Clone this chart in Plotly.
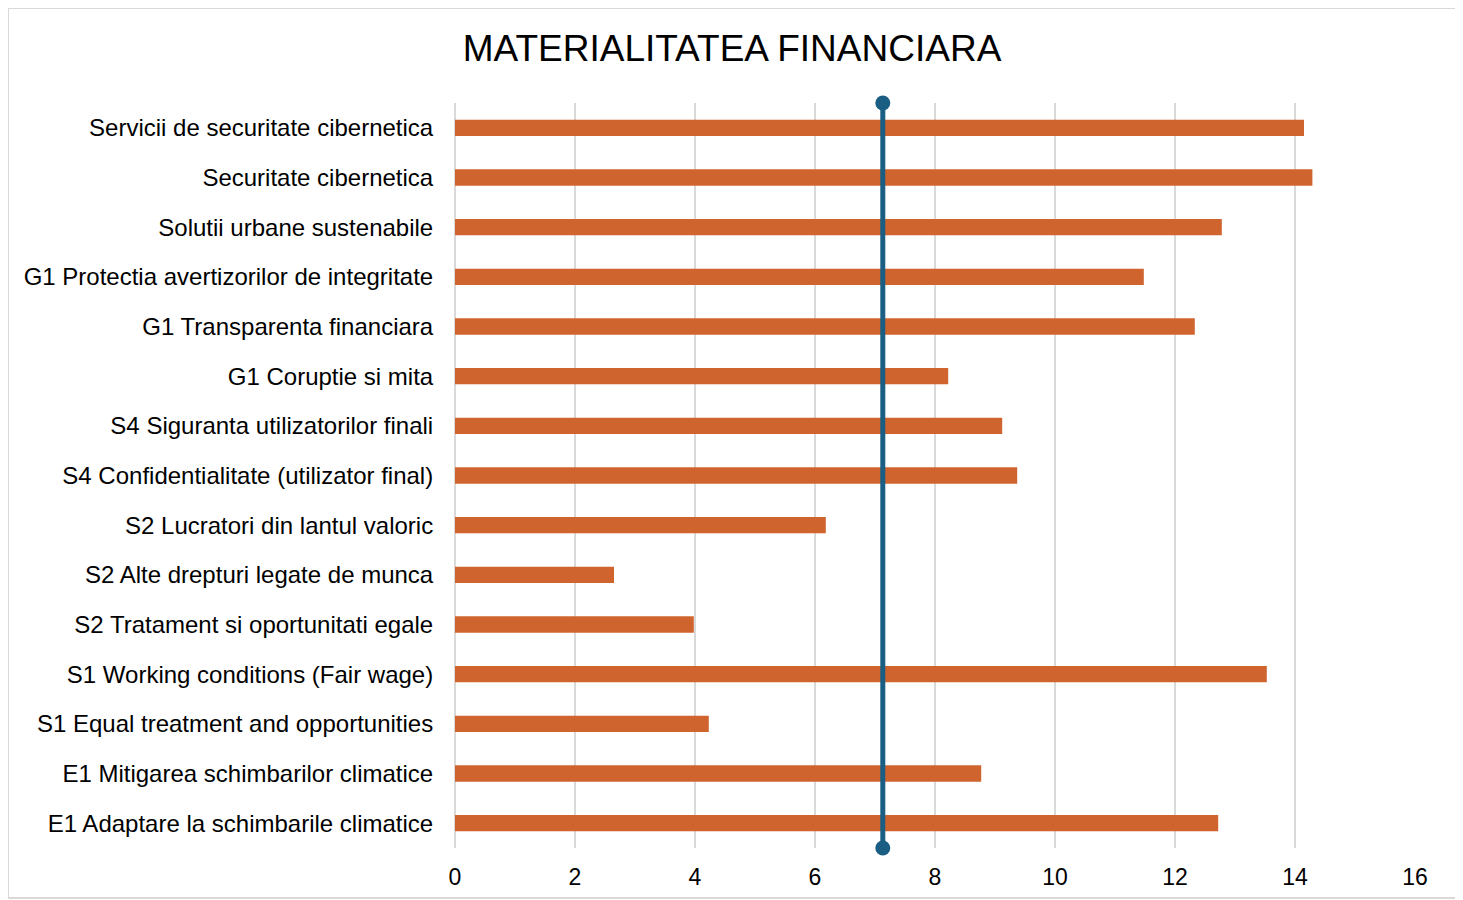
import plotly.graph_objects as go

# Date
categorii = [
    "Servicii de securitate cibernetica",
    "Securitate cibernetica",
    "Solutii urbane sustenabile",
    "G1 Protectia avertizorilor de integritate",
    "G1 Transparenta financiara",
    "G1 Coruptie si mita",
    "S4 Siguranta utilizatorilor finali",
    "S4 Confidentialitate (utilizator final)",
    "S2 Lucratori din lantul valoric",
    "S2 Alte drepturi legate de munca",
    "S2 Tratament si oportunitati egale",
    "S1 Working conditions (Fair wage)",
    "S1 Equal treatment and opportunities",
    "E1 Mitigarea schimbarilor climatice",
    "E1 Adaptare la schimbarile climatice",
]
valori = [14.15, 14.29, 12.78, 11.48, 12.33, 8.22, 9.12, 9.37,
          6.18, 2.65, 3.98, 13.53, 4.23, 8.77, 12.72]
prag_x = [7.13, 7.13]
prag_y = [0, 1]

# pagina are o margine de 8px, figura incepe la (8, 8)
W, H = 1455, 892
L, R, T, B = 447, 48, 95, 52
pw = W - L - R
ph = H - T - B

fig = go.Figure()

fig.add_trace(go.Bar(
    y=categorii,
    x=valori,
    orientation="h",
    width=0.33,
    marker=dict(color="#D0642E", line=dict(width=0)),
))

# linia de prag
fig.add_trace(go.Scatter(
    x=prag_x,
    y=prag_y,
    yaxis="y2",
    mode="lines+markers",
    line=dict(color="#1B5E84", width=5),
    marker=dict(size=15, color="#1B5E84"),
    cliponaxis=False,
))

fig.update_layout(
    width=W,
    height=H,
    paper_bgcolor="white",
    plot_bgcolor="white",
    showlegend=False,
    font=dict(family="Liberation Sans, Arial, sans-serif", color="#000000"),
    title=dict(
        text="MATERIALITATEA FINANCIARA",
        x=724 / W,
        xanchor="center",
        y=1 - 40 / H,
        yanchor="middle",
        font=dict(size=37, color="#000000"),
    ),
    margin=dict(l=L, r=R, t=T, b=B, autoexpand=False),
    xaxis=dict(
        range=[0, 16],
        dtick=2,
        automargin=False,
        showgrid=True,
        gridcolor="#D9D9D9",
        gridwidth=2,
        zeroline=True,
        zerolinecolor="#D9D9D9",
        zerolinewidth=2,
        showline=False,
        ticks="outside",
        ticklen=8,
        tickcolor="rgba(0,0,0,0)",
        tickfont=dict(size=23),
    ),
    yaxis=dict(
        autorange="reversed",
        automargin=False,
        showgrid=False,
        zeroline=False,
        showline=False,
        ticks="outside",
        ticklen=16,
        tickcolor="rgba(0,0,0,0)",
        tickfont=dict(size=24),
    ),
    yaxis2=dict(
        overlaying="y",
        range=[0, 1],
        visible=False,
    ),
    shapes=[dict(
        type="rect",
        xref="paper", yref="paper",
        x0=(0 - L) / pw, x1=(1449 - L) / pw,
        y0=(T + ph - 890) / ph, y1=(T + ph - 0) / ph,
        line=dict(color="#D9D9D9", width=2),
        fillcolor="rgba(0,0,0,0)",
        layer="below",
    )],
)

fig.write_html("out.html")
